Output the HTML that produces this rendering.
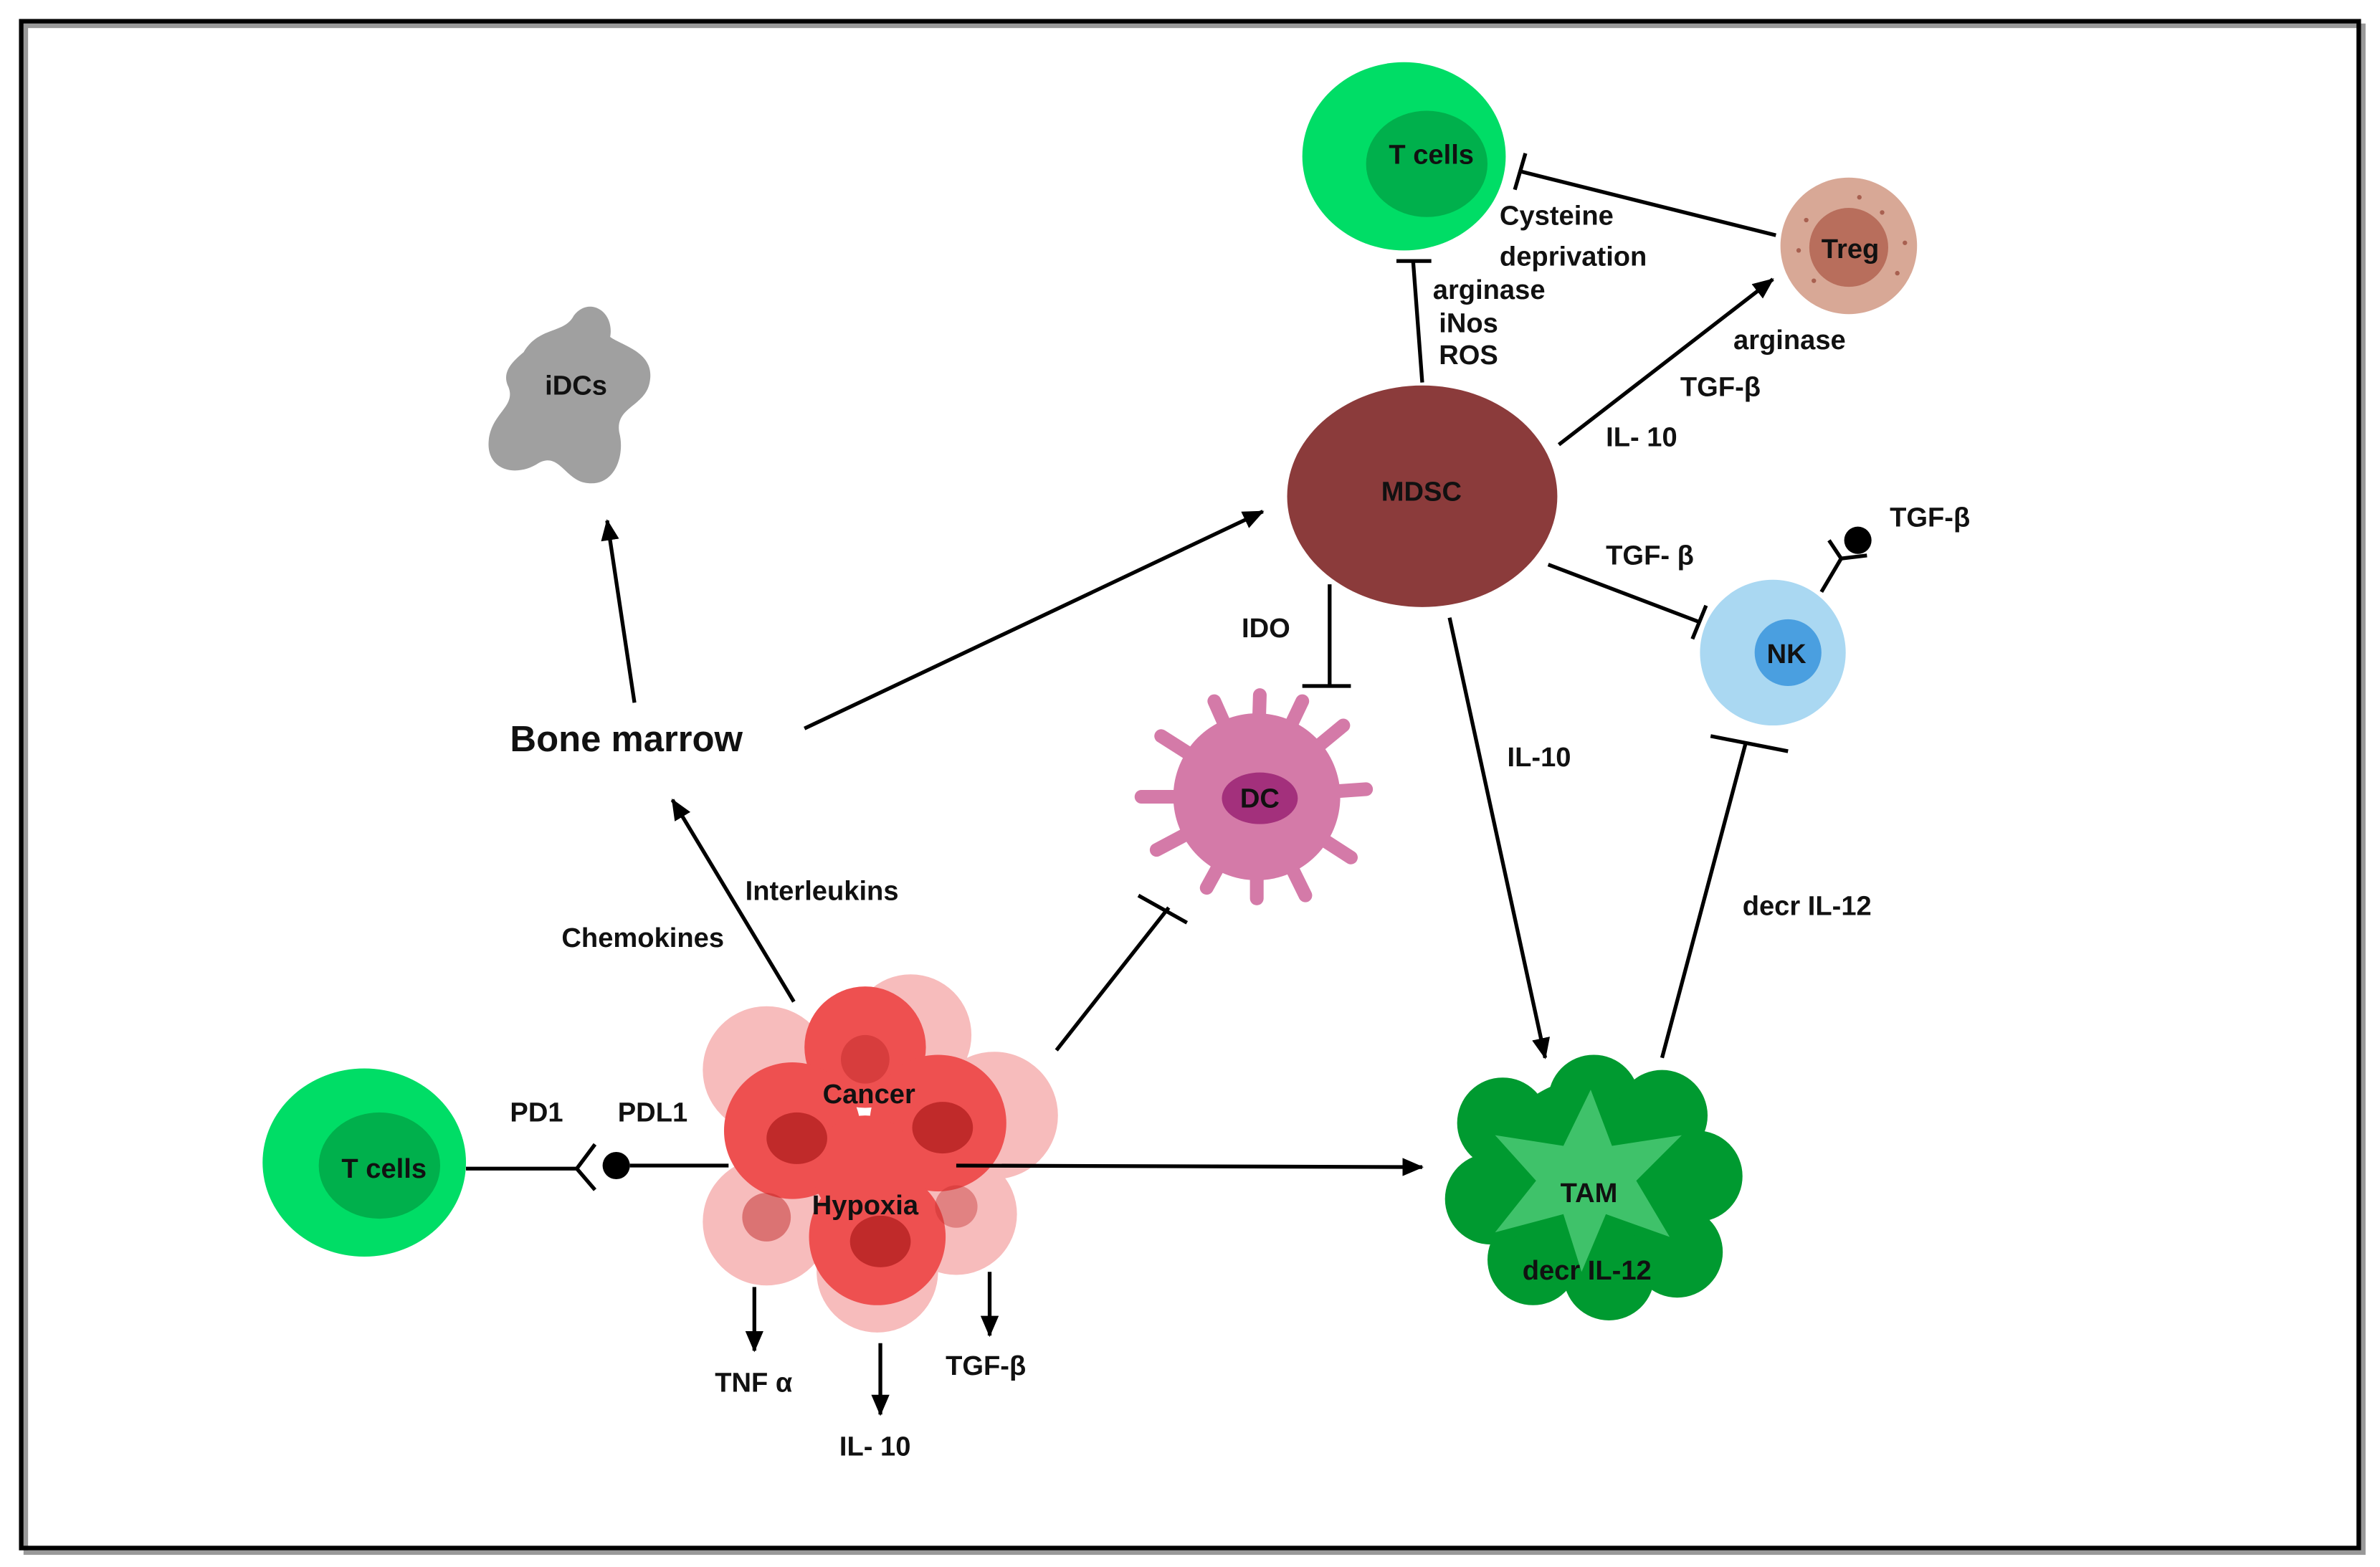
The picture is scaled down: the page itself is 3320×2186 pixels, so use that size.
<!DOCTYPE html>
<html><head><meta charset="utf-8"><style>
html,body{margin:0;padding:0;background:#fff}
svg{display:block}
text{font-family:"Liberation Sans",sans-serif;font-weight:bold;font-size:18px;fill:#111}
</style></head><body>
<svg width="3320" height="2186" viewBox="0 0 1568 1032.5" preserveAspectRatio="none" xmlns="http://www.w3.org/2000/svg">
<defs>
<marker id="ar" markerWidth="14" markerHeight="12" refX="13" refY="6" orient="auto" markerUnits="userSpaceOnUse" viewBox="0 0 14 12">
<path d="M0,0 L14,6 L0,12 z" fill="#000"/></marker>
</defs>
<rect width="1568" height="1032.5" fill="#fff"/>
<rect x="17" y="17" width="1540" height="1006" fill="none" stroke="#999" stroke-width="3"/>
<rect x="14" y="14" width="1540" height="1006" fill="none" stroke="#000" stroke-width="3"/>

<ellipse cx="925" cy="103" rx="67" ry="62" fill="#00dd66"/>
<ellipse cx="940" cy="108" rx="40" ry="35" fill="#00b04c"/>
<text x="915" y="108">T cells</text>

<circle cx="1218" cy="162" r="45" fill="#d8a896"/>
<circle cx="1218" cy="163" r="26" fill="#b86e5c"/>
<g fill="#a86050"><circle cx="1190" cy="145" r="1.5"/><circle cx="1240" cy="140" r="1.5"/><circle cx="1250" cy="180" r="1.5"/><circle cx="1195" cy="185" r="1.5"/><circle cx="1225" cy="130" r="1.5"/><circle cx="1185" cy="165" r="1.5"/><circle cx="1255" cy="160" r="1.5"/></g>
<text x="1200" y="170">Treg</text>

<path d="M345,232 C355,215 372,220 378,208 C388,195 405,205 402,222 C410,228 432,232 428,252 C425,268 405,268 408,285 C412,300 405,322 385,318 C372,315 368,298 355,305 C340,315 320,310 322,290 C324,272 340,268 335,255 C330,245 338,238 345,232 Z" fill="#a0a0a0"/>
<text x="359" y="260">iDCs</text>

<ellipse cx="937" cy="327" rx="89" ry="73" fill="#8b3b3b"/>
<text x="910" y="330">MDSC</text>

<circle cx="1168" cy="430" r="48" fill="#aad8f2"/>
<circle cx="1178" cy="430" r="22" fill="#4a9fe0"/>
<text x="1164" y="437">NK</text>

<g stroke="#d47aa8" stroke-width="9" stroke-linecap="round">
<line x1="828" y1="525" x2="830" y2="458"/><line x1="828" y1="525" x2="858" y2="462"/><line x1="828" y1="525" x2="885" y2="478"/>
<line x1="828" y1="525" x2="900" y2="520"/><line x1="828" y1="525" x2="890" y2="565"/><line x1="828" y1="525" x2="860" y2="590"/>
<line x1="828" y1="525" x2="828" y2="592"/><line x1="828" y1="525" x2="795" y2="585"/><line x1="828" y1="525" x2="762" y2="560"/>
<line x1="828" y1="525" x2="752" y2="525"/><line x1="828" y1="525" x2="765" y2="485"/><line x1="828" y1="525" x2="800" y2="462"/>
</g>
<circle cx="828" cy="525" r="55" fill="#d47aa8"/>
<ellipse cx="830" cy="526" rx="25" ry="17" fill="#a3307c"/>
<text x="817" y="532">DC</text>

<g fill="#009a30">
<circle cx="1050" cy="780" r="70"/>
<circle cx="1050" cy="725" r="30"/><circle cx="1095" cy="735" r="30"/><circle cx="1118" cy="775" r="30"/>
<circle cx="1105" cy="825" r="30"/><circle cx="1060" cy="840" r="30"/><circle cx="1010" cy="830" r="30"/>
<circle cx="982" cy="790" r="30"/><circle cx="990" cy="740" r="30"/>
</g>
<polygon points="1048,718 1062,755 1108,748 1078,778 1100,815 1058,800 1042,838 1030,800 985,812 1012,778 985,748 1030,755" fill="#3fc26a"/>
<text x="1028" y="792">TAM</text>
<text x="1003" y="843">decr IL-12</text>

<g fill="#f4a0a0" opacity="0.7">
<circle cx="505" cy="705" r="42"/><circle cx="600" cy="682" r="40"/><circle cx="655" cy="735" r="42"/>
<circle cx="630" cy="800" r="40"/><circle cx="578" cy="838" r="40"/><circle cx="505" cy="805" r="42"/>
</g>
<g fill="#ee5050">
<circle cx="570" cy="690" r="40"/><circle cx="522" cy="745" r="45"/><circle cx="618" cy="740" r="45"/>
<circle cx="578" cy="815" r="45"/><circle cx="570" cy="770" r="35"/>
</g>
<g fill="#c02a2a">
<circle cx="570" cy="698" r="16" opacity="0.5"/><ellipse cx="525" cy="750" rx="20" ry="17"/><ellipse cx="621" cy="743" rx="20" ry="17"/>
<ellipse cx="580" cy="818" rx="20" ry="17"/><circle cx="505" cy="802" r="16" opacity="0.5"/><circle cx="630" cy="795" r="14" opacity="0.4"/>
</g>
<text x="542" y="727">Cancer</text>
<text x="535" y="800">Hypoxia</text>

<ellipse cx="240" cy="766" rx="67" ry="62" fill="#00dd66"/>
<ellipse cx="250" cy="768" rx="40" ry="35" fill="#00b04c"/>
<text x="225" y="776">T cells</text>

<g stroke="#000" stroke-width="2.5" fill="none">
<line x1="937" y1="252" x2="931" y2="172"/><line x1="920" y1="172" x2="943" y2="172"/>
<line x1="1170" y1="155" x2="1002" y2="113"/><line x1="998" y1="125" x2="1005" y2="101"/>
<line x1="1027" y1="293" x2="1168" y2="184" marker-end="url(#ar)"/>
<line x1="1020" y1="372" x2="1120" y2="410"/><line x1="1124" y1="399" x2="1115" y2="421"/>
<line x1="1200" y1="390" x2="1213" y2="368"/><path d="M1205,356 L1213,368 L1230,366"/>
<line x1="876" y1="385" x2="876" y2="452"/><line x1="858" y1="452" x2="890" y2="452"/>
<line x1="955" y1="407" x2="1018" y2="697" marker-end="url(#ar)"/>
<line x1="1095" y1="697" x2="1150" y2="490"/><line x1="1127" y1="485" x2="1178" y2="495"/>
<line x1="530" y1="480" x2="832" y2="337" marker-end="url(#ar)"/>
<line x1="418" y1="463" x2="400" y2="343" marker-end="url(#ar)"/>
<line x1="523" y1="660" x2="443" y2="527" marker-end="url(#ar)"/>
<line x1="696" y1="692" x2="770" y2="598"/><line x1="750" y1="590" x2="782" y2="608"/>
<line x1="630" y1="768" x2="937" y2="769" marker-end="url(#ar)"/>
<line x1="480" y1="768" x2="415" y2="768"/><line x1="307" y1="770" x2="380" y2="770"/>
<path d="M392,754 L380,770 L392,784"/>
<line x1="497" y1="848" x2="497" y2="890" marker-end="url(#ar)"/>
<line x1="580" y1="885" x2="580" y2="932" marker-end="url(#ar)"/>
<line x1="652" y1="838" x2="652" y2="880" marker-end="url(#ar)"/>
</g>
<circle cx="406" cy="768" r="9" fill="#000"/>
<circle cx="1224" cy="356" r="9" fill="#000"/>

<text x="988" y="148">Cysteine</text>
<text x="988" y="175">deprivation</text>
<text x="944" y="197">arginase</text>
<text x="948" y="219">iNos</text>
<text x="948" y="240">ROS</text>
<text x="1142" y="230">arginase</text>
<text x="1107" y="261">TGF-β</text>
<text x="1058" y="294">IL- 10</text>
<text x="1245" y="347">TGF-β</text>
<text x="1058" y="372">TGF- β</text>
<text x="818" y="420">IDO</text>
<text x="993" y="505">IL-10</text>
<text x="1148" y="603">decr IL-12</text>
<text x="336" y="495" style="font-size:24px">Bone marrow</text>
<text x="491" y="593">Interleukins</text>
<text x="370" y="624">Chemokines</text>
<text x="336" y="739">PD1</text>
<text x="407" y="739">PDL1</text>
<text x="471" y="917">TNF α</text>
<text x="553" y="959">IL- 10</text>
<text x="623" y="906">TGF-β</text>
</svg>
</body></html>
